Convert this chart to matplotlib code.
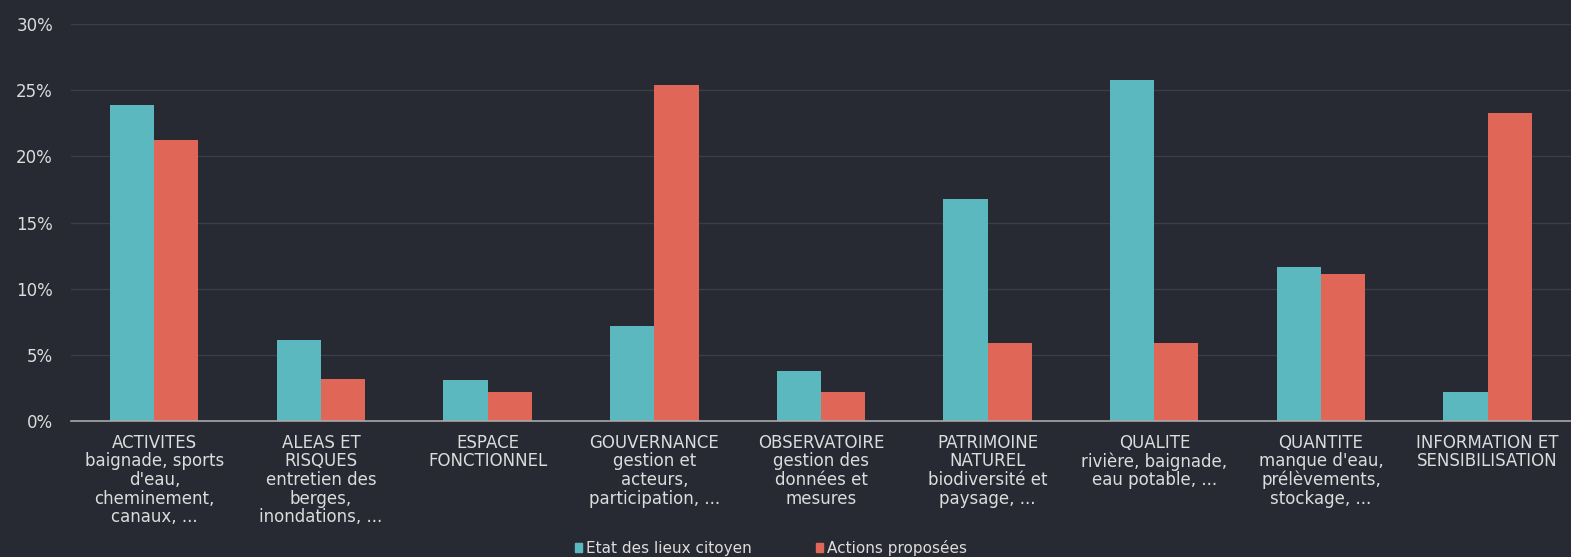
import matplotlib
matplotlib.use("Agg")
import matplotlib.pyplot as plt
import numpy as np
from matplotlib.ticker import FuncFormatter
from matplotlib.patches import Patch

categories = [
    "ACTIVITES\nbaignade, sports\nd'eau,\ncheminement,\ncanaux, ...",
    "ALEAS ET\nRISQUES\nentretien des\nberges,\ninondations, ...",
    "ESPACE\nFONCTIONNEL",
    "GOUVERNANCE\ngestion et\nacteurs,\nparticipation, ...",
    "OBSERVATOIRE\ngestion des\ndonnées et\nmesures",
    "PATRIMOINE\nNATUREL\nbiodiversité et\npaysage, ...",
    "QUALITE\nrivière, baignade,\neau potable, ...",
    "QUANTITE\nmanque d'eau,\nprélèvements,\nstockage, ...",
    "INFORMATION ET\nSENSIBILISATION",
]
etat_des_lieux = [23.9, 6.1, 3.1, 7.2, 3.8, 16.8, 25.8, 11.6, 2.2]
actions_proposees = [21.2, 3.2, 2.2, 25.4, 2.2, 5.9, 5.9, 11.1, 23.3]
series_names = ["Etat des lieux citoyen", "Actions proposées"]
yticks = [0, 5, 10, 15, 20, 25, 30]

BG = "#272a33"
TEAL = "#5bb8bf"
ORANGE = "#e06757"
TXT = "#dcdcdc"

fig = plt.figure(figsize=(15.71, 5.57), dpi=100, facecolor=BG)
ax = fig.add_axes([71/1571, 1-421/557, 1-71/1571, (421-24)/557])
ax.set_facecolor(BG)

x = np.arange(len(categories))
w = 0.265
ax.bar(x - w/2, etat_des_lieux, width=w, color=TEAL, zorder=3)
ax.bar(x + w/2, actions_proposees, width=w, color=ORANGE, zorder=3)

ax.set_xlim(-0.5, 8.5)
ax.set_ylim(0, 30)
ax.set_yticks(yticks)
ax.yaxis.set_major_formatter(FuncFormatter(lambda v, p: f"{int(v)}%"))
ax.grid(axis="y", color="#3b3e47", linewidth=1, zorder=0)
ax.set_axisbelow(True)
for s in ["top", "right", "left"]:
    ax.spines[s].set_visible(False)
ax.spines["bottom"].set_color("#a8a8a8")
ax.spines["bottom"].set_linewidth(1.2)
ax.spines["bottom"].set_zorder(4)

ax.set_xticks(x)
ax.set_xticklabels(categories, fontsize=12, color=TXT, linespacing=1.05)
ax.tick_params(axis="x", length=0, pad=9)
ax.tick_params(axis="y", length=0, pad=13, labelsize=12, labelcolor=TXT)

handles = [Patch(color=TEAL, label=series_names[0]), Patch(color=ORANGE, label=series_names[1])]
leg = fig.legend(handles=handles, loc="center", bbox_to_anchor=(771/1571, 1-548/557),
                 ncol=2, frameon=False, fontsize=11, handlelength=0.45, handleheight=0.45,
                 handletextpad=0.25, columnspacing=4.2, labelcolor=TXT)

fig.savefig("out.png", dpi=100, facecolor=BG)
